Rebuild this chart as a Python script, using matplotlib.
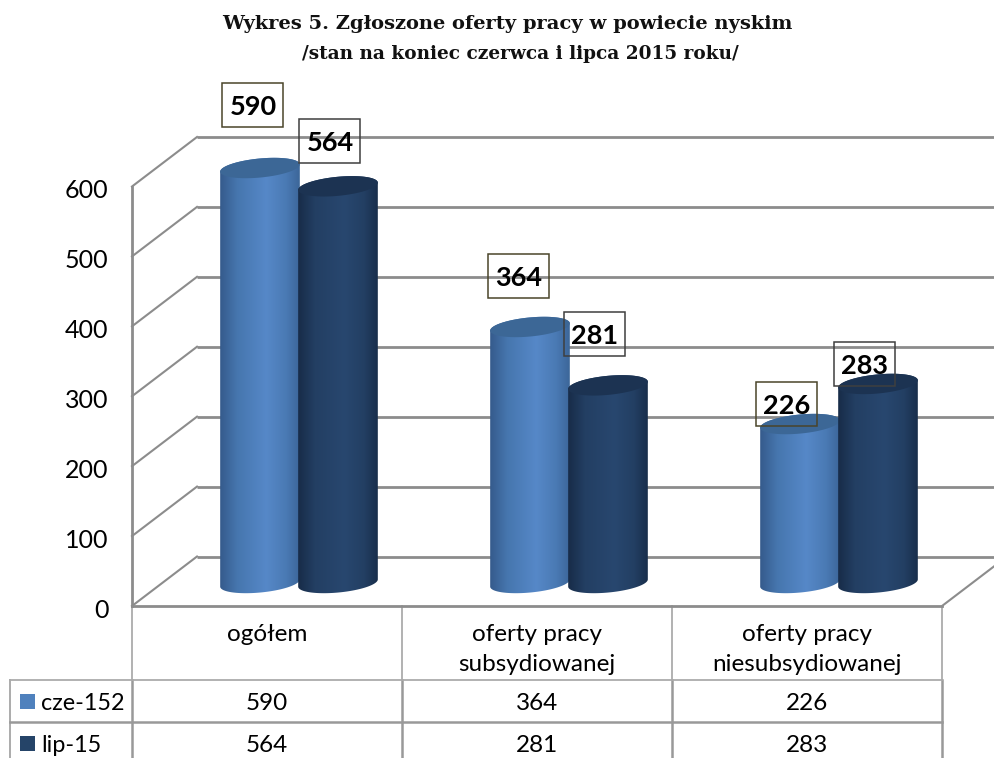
import numpy as np
import matplotlib
matplotlib.use("Agg")
import matplotlib.pyplot as plt
from matplotlib.patches import Polygon, Rectangle
from matplotlib.transforms import ScaledTranslation

# chart data
categories = ["ogółem", "oferty pracy\nsubsydiowanej", "oferty pracy\nniesubsydiowanej"]
series_names = ["cze-152", "lip-15"]
june_values = [590, 364, 226]
july_values = [564, 281, 283]
y_ticks = [0, 100, 200, 300, 400, 500, 600]
title_first = "Wykres 5. Zgłoszone oferty pracy w powiecie nyskim"
title_second = "/stan na koniec czerwca i lipca 2015 roku/"

# colours across the cylinder, then the top face
blue_shades = ["#34598a", "#4676ae", "#5688c8", "#4a7ab4", "#3b6597"]
navy_shades = ["#172b47", "#233f63", "#28476f", "#233f63", "#182d4a"]
blue_top = "#3c6796"
navy_top = "#1c3352"
swatches = ["#4f81bd", "#254468"]
grid_col = "#8c8c8c"
table_col = "#999999"
table_light = "#ababab"

# pixel sizes of the figure and of the plot box
W, H = 995, 758
LEFT, RIGHT, TOP, BOTTOM = 132, 942, 186.5, 606
DEPTH_X, DEPTH_Y = 65, 49.5
PX_X = 3.0 / (RIGHT - LEFT)
PX_Y = 600.0 / (BOTTOM - TOP)

# cylinder shape in pixels
GROUP_SHIFT = 32
BAR_OFFSET = 39
RX, RY = 40, 9.5
TILT = np.radians(5.5)
BASE_LIFT = 23
BAR_SCALE = 1.006

# label box placement (pixels from the top of each bar)
june_label_dx = [-7, -11.5, -13]
june_label_dy = [63, 51, 20]
july_label_dx = [-8, -13, -13.5]
july_label_dy = [45.5, 51.5, 20]
june_box_col = "#4a452a"
july_box_col = "#3f3f3f"
BOX_W, BOX_H = 61, 44

plt.rcParams["font.family"] = ["Lato", "DejaVu Sans"]
fig = plt.figure(figsize=(W / 100, H / 100), dpi=100)
ax = fig.add_axes([LEFT / W, 1 - BOTTOM / H, (RIGHT - LEFT) / W, (BOTTOM - TOP) / H])


def ellipse_arc(cx, cy, t):
    px = RX * np.cos(t) * np.cos(TILT) - RY * np.sin(t) * np.sin(TILT)
    py = RX * np.cos(t) * np.sin(TILT) + RY * np.sin(t) * np.cos(TILT)
    return np.column_stack((cx + px * PX_X, cy + py * PX_Y))


def cylinder(x, value, shades, top_col):
    base = BASE_LIFT * PX_Y
    top = base + value * BAR_SCALE
    upper = ellipse_arc(x, top, np.linspace(0, np.pi, 60))
    lower = ellipse_arc(x, base, np.linspace(np.pi, 2 * np.pi, 60))
    outline = Polygon(np.vstack((upper, lower)), closed=True, fc="none", ec="none", transform=ax.transData)
    ax.add_patch(outline)

    # horizontal shading clipped to the outline
    pos = np.linspace(0, 1, 120)
    rgb = np.array([matplotlib.colors.to_rgb(c) for c in shades])
    stops = [0, 0.22, 0.58, 0.82, 1]
    grad = np.stack([np.interp(pos, stops, rgb[:, k]) for k in range(3)], axis=1)[np.newaxis, :, :]
    x0, x1 = x - (RX + 1) * PX_X, x + (RX + 1) * PX_X
    im = ax.imshow(grad, extent=(x0, x1, base - 15 * PX_Y, top + 15 * PX_Y), aspect="auto", zorder=3, interpolation="bilinear")
    im.set_clip_box(fig.bbox)
    im.set_clip_path(outline)

    face = ellipse_arc(x, top, np.linspace(0, 2 * np.pi, 120))
    ax.add_patch(Polygon(face, closed=True, fc=top_col, ec="none", zorder=3, clip_on=False))


def value_box(x, value, dx, dy, edge):
    top = BASE_LIFT * PX_Y + value * BAR_SCALE
    bx = x + dx * PX_X
    by = top + dy * PX_Y
    ax.add_patch(Rectangle((bx - BOX_W / 2 * PX_X, by - BOX_H / 2 * PX_Y), BOX_W * PX_X, BOX_H * PX_Y,
                           fc="none", ec=edge, lw=1.1, zorder=5, clip_on=False))
    ax.text(bx, by, str(value), ha="center", va="center_baseline", fontsize=19.5, fontweight="bold",
            color="black", zorder=6, clip_on=False)


# back wall and side wall lines
back_dx = DEPTH_X * PX_X
back_dy = DEPTH_Y * PX_Y
for v in y_ticks:
    ax.plot([back_dx, 3 + back_dx], [v + back_dy, v + back_dy], color=grid_col, lw=2.0, clip_on=False, zorder=1, solid_capstyle="butt")
    ax.plot([0, back_dx], [v, v + back_dy], color=grid_col, lw=1.5, clip_on=False, zorder=1)
ax.plot([3, 3 + back_dx], [0, back_dy], color=grid_col, lw=1.5, clip_on=False, zorder=1)

# cylinders, one group after the other
for i in range(len(categories)):
    centre = i + 0.5 + GROUP_SHIFT * PX_X
    cylinder(centre - BAR_OFFSET * PX_X, june_values[i], blue_shades, blue_top)
    cylinder(centre + BAR_OFFSET * PX_X, july_values[i], navy_shades, navy_top)

for i in range(len(categories)):
    centre = i + 0.5 + GROUP_SHIFT * PX_X
    value_box(centre - BAR_OFFSET * PX_X, june_values[i], june_label_dx[i], june_label_dy[i], june_box_col)
    value_box(centre + BAR_OFFSET * PX_X, july_values[i], july_label_dx[i], july_label_dy[i], july_box_col)

ax.set_xlim(0, 3)
ax.set_ylim(0, 600)
ax.set_yticks(y_ticks)
ax.set_xticks([0.5, 1.5, 2.5])
ax.set_xticklabels(categories, fontsize=17.5, linespacing=1.54)
ax.tick_params(axis="y", length=0, pad=17, labelsize=18, labelcolor="black")
ax.tick_params(axis="x", length=0, pad=13, labelcolor="black")
for lab in ax.get_yticklabels():
    lab.set_transform(lab.get_transform() + ScaledTranslation(0, -2 / 100, fig.dpi_scale_trans))
for name in ["top", "right"]:
    ax.spines[name].set_visible(False)
for name in ["left", "bottom"]:
    ax.spines[name].set_color(grid_col)
    ax.spines[name].set_linewidth(2.0)

# data table under the plot
row_tops = [680, 722]
row_mids = [701, 743]
row_top_y = (BOTTOM - 680) * PX_Y
bottom_y = (BOTTOM - H) * PX_Y
for px in [LEFT, 402, 672, RIGHT]:
    ax.plot([(px - LEFT) * PX_X] * 2, [0, row_top_y], color=table_light, lw=1.3, clip_on=False, zorder=1)
    ax.plot([(px - LEFT) * PX_X] * 2, [row_top_y, bottom_y], color=table_col, lw=1.8, clip_on=False, zorder=1)
ax.plot([(10 - LEFT) * PX_X] * 2, [row_top_y, bottom_y], color=table_light, lw=1.4, clip_on=False, zorder=1)
ax.plot([(10 - LEFT) * PX_X, 3], [row_top_y, row_top_y], color=table_light, lw=1.3, clip_on=False, zorder=1)
ax.plot([(10 - LEFT) * PX_X, 3], [(BOTTOM - row_tops[1]) * PX_Y] * 2, color=table_col, lw=1.8, clip_on=False, zorder=1)

rows = [june_values, july_values]
for r in range(2):
    y = (BOTTOM - row_mids[r]) * PX_Y
    for i in range(len(categories)):
        ax.text(i + 0.5, y, str(rows[r][i]), ha="center", va="center_baseline", fontsize=17.5, color="black", clip_on=False)
    ax.add_patch(Rectangle(((20 - LEFT) * PX_X, y - 7.5 * PX_Y), 15 * PX_X, 15 * PX_Y, fc=swatches[r], ec="none", clip_on=False))
    ax.text((41 - LEFT) * PX_X, y, series_names[r], ha="left", va="center_baseline", fontsize=16.8, color="black", clip_on=False)

fig.text(507.5 / W, 1 - 24 / H, title_first, ha="center", va="center", fontsize=14, fontweight="bold",
         family="DejaVu Serif", color="#111111")
fig.text(520.5 / W, 1 - 54 / H, title_second, ha="center", va="center", fontsize=13.3, fontweight="bold",
         family="DejaVu Serif", color="#111111")

fig.savefig("out.png", dpi=100)
